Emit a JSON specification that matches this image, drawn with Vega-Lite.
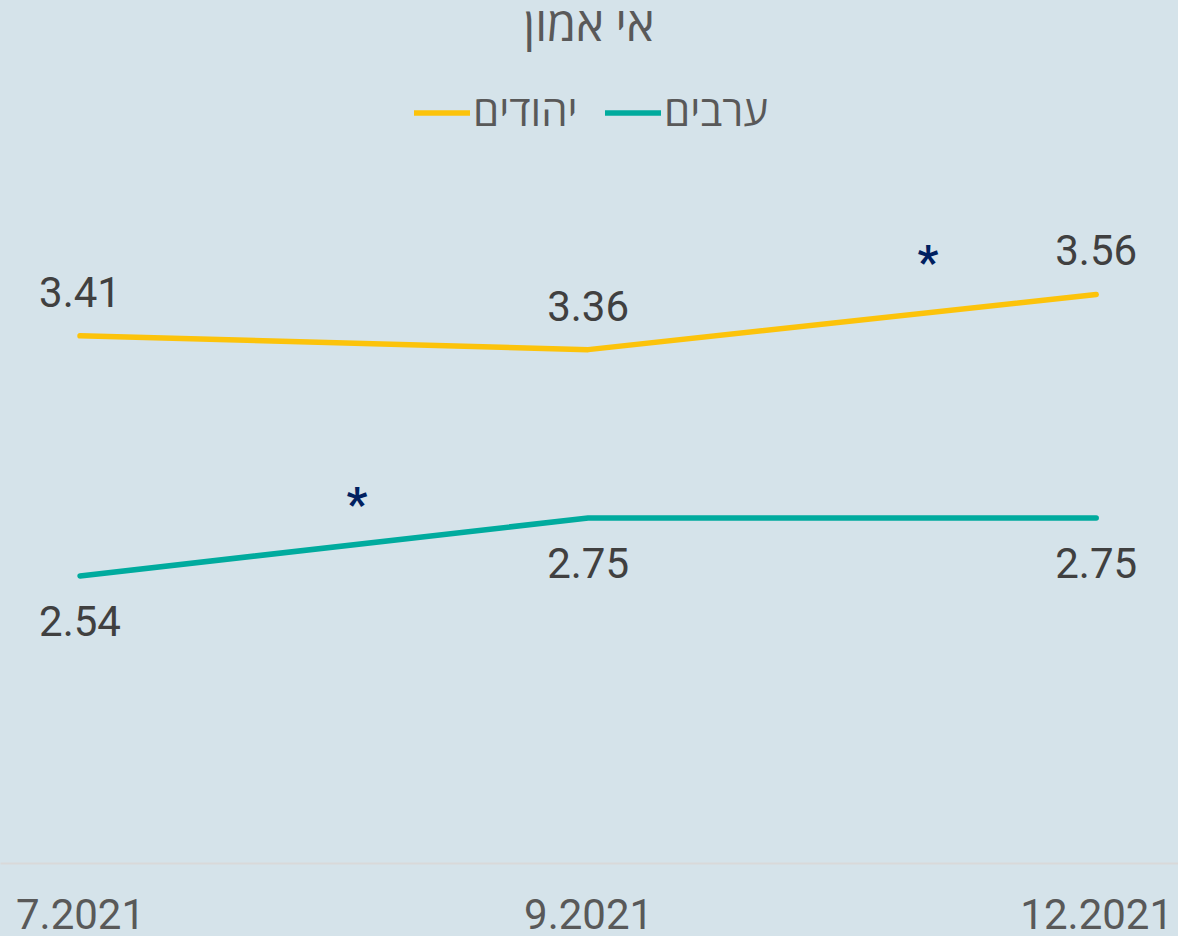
{
  "$schema": "https://vega.github.io/schema/vega-lite/v6.json",
  "autosize": {"type": "none"},
  "padding": {"top": 173, "left": 0, "right": 0, "bottom": 73},
  "width": 1178,
  "height": 690,
  "background": "#d5e3ea",
  "config": {
    "view": {"stroke": null},
    "font": "Roboto, 'Open Sans', 'DejaVu Sans'"
  },
  "title": {
    "text": "אי אמון",
    "fontSize": 47,
    "fontWeight": "normal",
    "color": "#595959",
    "anchor": "middle",
    "offset": 31
  },
  "data": {
    "values": [
      {"series": "יהודים", "t": 0, "date": "7.2021", "value": 3.41},
      {"series": "יהודים", "t": 1, "date": "9.2021", "value": 3.36},
      {"series": "יהודים", "t": 2, "date": "12.2021", "value": 3.56},
      {"series": "ערבים", "t": 0, "date": "7.2021", "value": 2.54},
      {"series": "ערבים", "t": 1, "date": "9.2021", "value": 2.75},
      {"series": "ערבים", "t": 2, "date": "12.2021", "value": 2.75}
    ]
  },
  "encoding": {
    "x": {
      "field": "t",
      "type": "quantitative",
      "scale": {"domain": [-0.1575, 2.161], "nice": false, "zero": false},
      "axis": {
        "values": [0, 1, 2],
        "labelExpr": "datum.value == 0 ? '7.2021' : datum.value == 1 ? '9.2021' : '12.2021'",
        "title": null,
        "grid": false,
        "ticks": false,
        "domainColor": "#d9d9d9",
        "domainWidth": 2,
        "labelFontSize": 42,
        "labelColor": "#595959",
        "labelPadding": 32,
        "labelFlush": false,
        "labelOverlap": false,
        "labelBound": false
      }
    },
    "y": {
      "field": "value",
      "type": "quantitative",
      "scale": {"domain": [1.5, 4.0], "nice": false, "zero": false},
      "axis": null
    }
  },
  "layer": [
    {
      "mark": {"type": "line", "strokeWidth": 5.5, "strokeCap": "round", "strokeJoin": "round"},
      "encoding": {
        "color": {
          "field": "series",
          "type": "nominal",
          "scale": {"domain": ["יהודים", "ערבים"], "range": ["#fcc30b", "#00ab9e"]},
          "legend": {
            "title": null,
            "orient": "none",
            "direction": "horizontal",
            "legendX": 411,
            "legendY": -91,
            "symbolType": "stroke",
            "symbolSize": 3136,
            "symbolStrokeWidth": 5.5,
            "labelFontSize": 42,
            "labelColor": "#595959",
            "labelOffset": 0,
            "columnPadding": 16
          }
        }
      }
    },
    {
      "transform": [{"filter": "datum.series == 'יהודים'"}],
      "mark": {"type": "text", "fontSize": 42, "color": "#404040", "dy": -29, "baseline": "alphabetic"},
      "encoding": {"text": {"field": "value", "type": "quantitative", "format": ".2f"}}
    },
    {
      "transform": [{"filter": "datum.series == 'ערבים'"}],
      "mark": {"type": "text", "fontSize": 42, "color": "#404040", "dy": 60, "baseline": "alphabetic"},
      "encoding": {"text": {"field": "value", "type": "quantitative", "format": ".2f"}}
    },
    {
      "data": {
        "values": [
          {"t": 0.545, "value": 2.83, "mark": "*"},
          {"t": 1.669, "value": 3.705, "mark": "*"}
        ]
      },
      "mark": {"type": "text", "fontSize": 46, "fontWeight": "bold", "color": "#002060", "baseline": "middle", "dy": 10},
      "encoding": {"text": {"field": "mark", "type": "nominal"}}
    }
  ]
}
